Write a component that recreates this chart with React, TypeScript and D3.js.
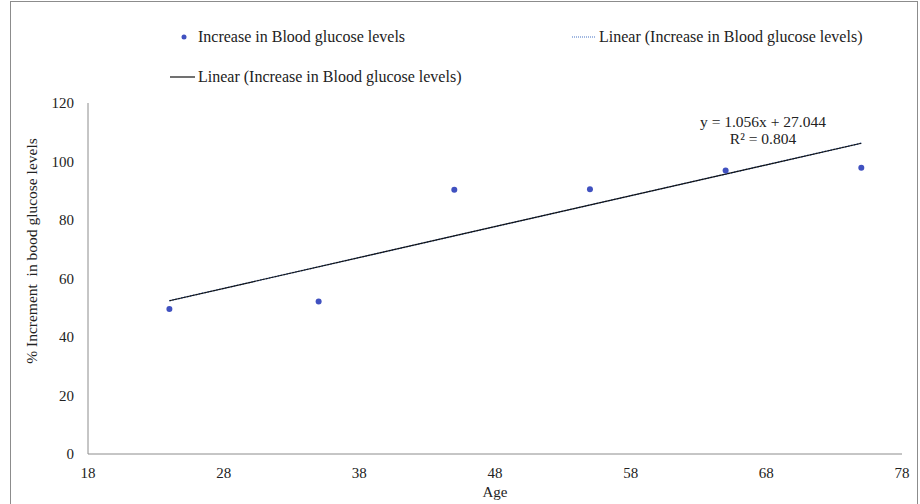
import React, { useEffect, useRef } from "react";
import * as d3 from "d3";

// data
const ages = [24, 35, 45, 55, 65, 75];
const glucoseIncrease = [49.6, 52.1, 90.3, 90.5, 96.9, 97.9];
const xTicks = [18, 28, 38, 48, 58, 68, 78];
const yTicks = [0, 20, 40, 60, 80, 100, 120];
const trendSlope = 1.056;
const trendIntercept = 27.044;
const seriesName = "Increase in Blood glucose levels";
const trendName = "Linear (Increase in Blood glucose levels)";

const W = 920;
const H = 504;
const FONT = "Liberation Serif, Times New Roman, DejaVu Serif, serif";

export default function App() {
  const ref = useRef<SVGSVGElement>(null);

  useEffect(() => {
    const svg = d3.select(ref.current);
    svg.selectAll("*").remove();

    const left = 88;
    const right = 902;
    const top = 103;
    const bottom = 454;

    const xScale = d3.scaleLinear().domain([18, 78]).range([left, right]);
    const yScale = d3.scaleLinear().domain([0, 120]).range([bottom, top]);

    // outer frame
    svg
      .append("rect")
      .attr("x", 10.5)
      .attr("y", 1.5)
      .attr("width", 907)
      .attr("height", 520)
      .attr("fill", "#fff")
      .attr("stroke", "#8c8c8c")
      .attr("stroke-width", 1);

    // axis lines, no tick marks
    svg
      .append("line")
      .attr("x1", left)
      .attr("x2", left)
      .attr("y1", top)
      .attr("y2", bottom)
      .attr("stroke", "#8c8c8c");
    svg
      .append("line")
      .attr("x1", left)
      .attr("x2", right)
      .attr("y1", bottom)
      .attr("y2", bottom)
      .attr("stroke", "#8c8c8c");

    // tick labels
    svg
      .append("g")
      .selectAll("text")
      .data(yTicks)
      .join("text")
      .attr("x", 74)
      .attr("y", (d) => yScale(d) + 5)
      .attr("text-anchor", "end")
      .style("font-family", FONT)
      .style("font-size", "15px")
      .attr("fill", "#222")
      .text((d) => d);

    svg
      .append("g")
      .selectAll("text")
      .data(xTicks)
      .join("text")
      .attr("x", (d) => xScale(d))
      .attr("y", 478)
      .attr("text-anchor", "middle")
      .style("font-family", FONT)
      .style("font-size", "15px")
      .attr("fill", "#222")
      .text((d) => d);

    // axis titles
    svg
      .append("text")
      .attr("x", (left + right) / 2)
      .attr("y", 497)
      .attr("text-anchor", "middle")
      .style("font-family", FONT)
      .style("font-size", "15px")
      .attr("fill", "#222")
      .text("Age");

    svg
      .append("text")
      .attr("transform", "translate(37,251) rotate(-90)")
      .attr("text-anchor", "middle")
      .style("font-family", FONT)
      .style("font-size", "15.5px")
      .style("white-space", "pre")
      .attr("fill", "#222")
      .text("% Increment  in bood glucose levels");

    // trendlines (dotted blue underneath, black solid on top)
    const xMin = d3.min(ages) as number;
    const xMax = d3.max(ages) as number;
    const trend = [xMin, xMax].map((a) => [a, trendSlope * a + trendIntercept]);
    const line = d3
      .line<number[]>()
      .x((d) => xScale(d[0]))
      .y((d) => yScale(d[1]));

    svg
      .append("path")
      .attr("d", line(trend))
      .attr("fill", "none")
      .attr("stroke", "#4472c4")
      .attr("stroke-width", 1.5)
      .attr("stroke-dasharray", "1.5,1.5");
    svg
      .append("path")
      .attr("d", line(trend))
      .attr("fill", "none")
      .attr("stroke", "#111")
      .attr("stroke-width", 1.2);

    // points
    svg
      .append("g")
      .selectAll("circle")
      .data(ages)
      .join("circle")
      .attr("cx", (d) => xScale(d))
      .attr("cy", (d, i) => yScale(glucoseIncrease[i]))
      .attr("r", 3)
      .attr("fill", "#4051c0");

    // equation label
    const eq = svg
      .append("text")
      .attr("text-anchor", "middle")
      .style("font-family", FONT)
      .style("font-size", "15.5px")
      .attr("fill", "#222");
    eq.append("tspan")
      .attr("x", 763)
      .attr("y", 127)
      .text(`y = ${trendSlope.toFixed(3)}x + ${trendIntercept.toFixed(3)}`);
    eq.append("tspan")
      .attr("x", 763)
      .attr("y", 144)
      .text("R² = 0.804");

    // legend
    const legend = svg
      .append("g")
      .style("font-family", FONT)
      .style("font-size", "16px")
      .attr("fill", "#222");
    legend.append("circle").attr("cx", 184).attr("cy", 37).attr("r", 2.5).attr("fill", "#4051c0");
    legend.append("text").attr("x", 198).attr("y", 42).text(seriesName);

    legend
      .append("line")
      .attr("x1", 572)
      .attr("x2", 596)
      .attr("y1", 37)
      .attr("y2", 37)
      .attr("stroke", "#4472c4")
      .attr("stroke-width", 1.2)
      .attr("stroke-dasharray", "1,1");
    legend.append("text").attr("x", 599).attr("y", 42).text(trendName);

    legend
      .append("line")
      .attr("x1", 170)
      .attr("x2", 195)
      .attr("y1", 77)
      .attr("y2", 77)
      .attr("stroke", "#111")
      .attr("stroke-width", 1.2);
    legend.append("text").attr("x", 198).attr("y", 82).text(trendName);
  }, []);

  return (
    <svg
      ref={ref}
      width={W}
      height={H}
      style={{ position: "absolute", left: 0, top: 0, background: "#fff" }}
    />
  );
}
